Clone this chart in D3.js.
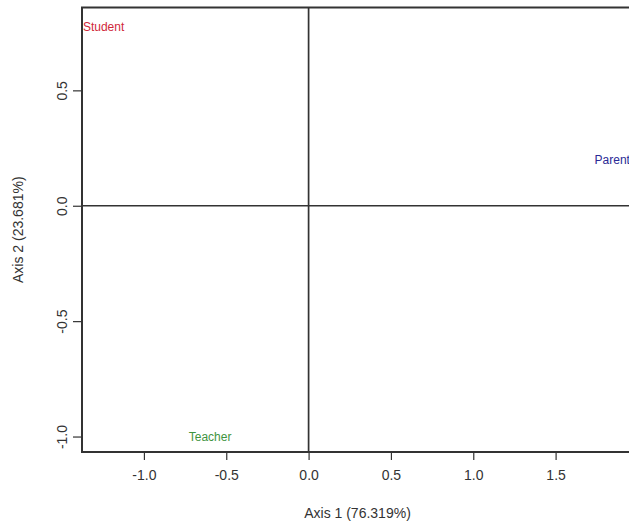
<!DOCTYPE html>
<html>
<head>
<meta charset="utf-8">
<script src="https://cdn.jsdelivr.net/npm/d3@7"></script>
<style>
  body { margin: 0; background: #fff; }
  svg text { font-family: "Liberation Sans", Arial, sans-serif; }
</style>
</head>
<body>
<svg id="chart" width="629" height="524"></svg>
<script>
// Data
const labels = ["Student", "Parent", "Teacher"];
const axis1 = [-1.245, 1.844, -0.598];
const axis2 = [0.775, 0.200, -1.002];
const labelColors = ["#d0283a", "#2a2a96", "#3f943f"];

const xTicks = [-1.0, -0.5, 0.0, 0.5, 1.0, 1.5];
const yTicks = [-1.0, -0.5, 0.0, 0.5];
const xLimits = [-1.376, 1.97];
const yLimits = [-1.067, 0.859];

const xTitle = "Axis 1 (76.319%)";
const yTitle = "Axis 2 (23.681%)";

const svg = d3.select("#chart");
const width = 629, height = 524;
const margin = { top: 7.5, right: -4, bottom: 72, left: 82 };

// Scales
const x = d3.scaleLinear()
  .domain(xLimits)
  .range([margin.left, width - margin.right]);

const y = d3.scaleLinear()
  .domain(yLimits)
  .range([height - margin.bottom, margin.top]);

const ink = "#333";

// Zero lines
svg.append("line")
  .attr("x1", x(0)).attr("x2", x(0))
  .attr("y1", y(yLimits[0])).attr("y2", y(yLimits[1]))
  .attr("stroke", ink).attr("stroke-width", 1.7);

svg.append("line")
  .attr("x1", x(xLimits[0])).attr("x2", x(xLimits[1]))
  .attr("y1", y(0)).attr("y2", y(0))
  .attr("stroke", ink).attr("stroke-width", 1.7);

// Axes
const xAxis = svg.append("g")
  .attr("transform", `translate(0,${y(yLimits[0])})`)
  .call(d3.axisBottom(x).tickValues(xTicks).tickFormat(d3.format(".1f")).tickSize(8).tickPadding(10));

const yAxis = svg.append("g")
  .attr("transform", `translate(${x(xLimits[0])},0)`)
  .call(d3.axisLeft(y).tickValues(yTicks).tickFormat(d3.format(".1f")).tickSize(9).tickPadding(0));

[xAxis, yAxis].forEach(g => {
  g.select(".domain").remove();
  g.selectAll(".tick line").attr("stroke", ink).attr("stroke-width", 1.2);
  g.selectAll(".tick text")
    .attr("fill", ink)
    .style("font-size", "14px");
});

xAxis.selectAll(".tick text").text(d => d3.format(".1f")(d).replace("−", "-"));

yAxis.selectAll(".tick text")
  .text(d => d3.format(".1f")(d).replace("−", "-"))
  .attr("x", null)
  .attr("text-anchor", "middle")
  .attr("transform", "translate(-20,0) rotate(-90)")
  .attr("dy", "0.35em");

// Plot box
svg.append("rect")
  .attr("x", x(xLimits[0]))
  .attr("y", y(yLimits[1]))
  .attr("width", x(xLimits[1]) - x(xLimits[0]))
  .attr("height", y(yLimits[0]) - y(yLimits[1]))
  .attr("fill", "none")
  .attr("stroke", ink)
  .attr("stroke-width", 2);

// Point labels
svg.selectAll("text.pt")
  .data(labels)
  .join("text")
  .attr("class", "pt")
  .attr("x", (d, i) => x(axis1[i]))
  .attr("y", (d, i) => y(axis2[i]))
  .attr("dy", "0.35em")
  .attr("text-anchor", "middle")
  .attr("fill", (d, i) => labelColors[i])
  .style("font-size", "12px")
  .text(d => d);

// X-axis label
svg.append("text")
  .attr("x", (x(xLimits[0]) + x(xLimits[1])) / 2)
  .attr("y", 518)
  .attr("text-anchor", "middle")
  .attr("fill", ink)
  .style("font-size", "14px")
  .text(xTitle);

// Y-axis label
svg.append("text")
  .attr("transform", "rotate(-90)")
  .attr("x", -(y(yLimits[0]) + y(yLimits[1])) / 2)
  .attr("y", 23)
  .attr("text-anchor", "middle")
  .attr("fill", ink)
  .style("font-size", "14px")
  .text(yTitle);
</script>
</body>
</html>
